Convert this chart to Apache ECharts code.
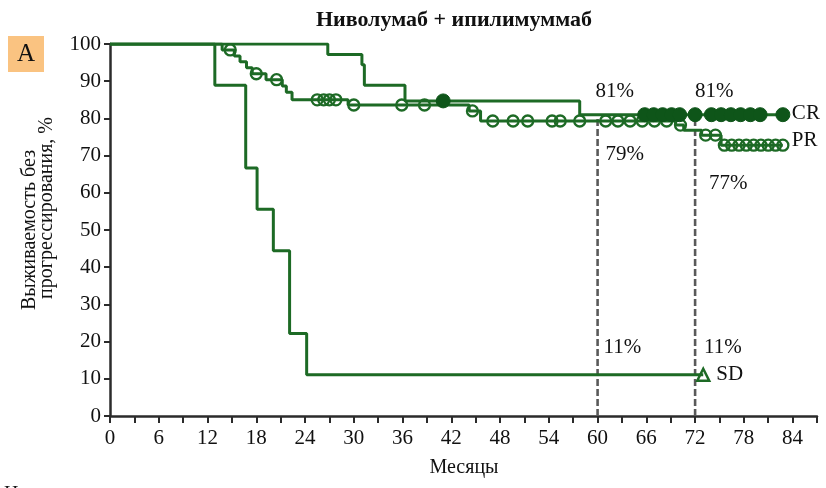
<!DOCTYPE html>
<html>
<head>
<meta charset="utf-8">
<script src="https://cdn.jsdelivr.net/npm/echarts@6/dist/echarts.min.js"></script>
<style>
  html, body { margin: 0; padding: 0; background: #fff; }
  #chart { width: 826px; height: 488px; }
</style>
</head>
<body>
<div id="chart"></div>
<script>
// Kaplan–Meier progression-free survival by best response (CR / PR / SD)

// Event times (months) and survival (%) after each event
const crEventMonths = [26.8, 31.0, 31.3, 36.3, 57.8];
const crSurvival    = [97.2, 94.4, 88.9, 84.7, 81.0];
const crCensorMonths = [41.0, 65.8, 66.9, 68.0, 69.1, 70.1, 72.0, 74.0, 75.2, 76.4, 77.6, 78.8, 80.0, 82.8];

const prEventMonths = [13.8, 15.3, 16.0, 16.8, 17.5, 19.2, 21.2, 21.7, 22.4, 29.3, 44.2, 45.6, 69.6, 70.6, 72.8, 75.2];
const prSurvival    = [98.4, 96.8, 95.2, 93.6, 92.0, 90.4, 88.7, 87.0, 85.0, 83.6, 82.0, 79.3, 78.2, 76.8, 75.5, 72.8];
const prCensorMonths = [14.8, 18.0, 20.5, 25.5, 26.3, 27.0, 27.8, 30.0, 35.9, 38.7, 44.6, 47.1, 49.6, 51.4, 54.4, 55.4, 57.8,
                        61.0, 62.5, 64.0, 65.5, 67.0, 68.5, 70.2, 73.3, 74.5, 75.6, 76.5, 77.4, 78.3, 79.2, 80.1, 81.0, 81.9, 82.8];

const sdEventMonths = [12.9, 16.7, 18.1, 20.1, 22.1, 24.2];
const sdSurvival    = [88.9, 66.7, 55.6, 44.4, 22.2, 11.1];
const sdCensorMonths = [73.0];

const landmarkMonths = [60, 72];
const xTickLabels = [0, 6, 12, 18, 24, 30, 36, 42, 48, 54, 60, 66, 72, 78, 84];
const yTickLabels = [0, 10, 20, 30, 40, 50, 60, 70, 80, 90, 100];

const groupNames = ['CR', 'PR', 'SD'];
const titleText = 'Ниволумаб + ипилимуммаб';
const yNameLines = ['Выживаемость без', 'прогрессирования, %'];
const xNameText = 'Месяцы';

// ---- helpers ----
function survivalAt(months, values, t) {
  let s = 100;
  for (let i = 0; i < months.length; i++) if (months[i] <= t) s = values[i];
  return s;
}
function stepData(months, values, censors) {
  const pts = [[0, 100]];
  months.forEach((m, i) => pts.push([m, values[i]]));
  const end = Math.max(...censors, months[months.length - 1]);
  pts.push([end, values[values.length - 1]]);
  return pts;
}
function censorData(months, values, censors) {
  return censors.map(t => [t, survivalAt(months, values, t)]);
}

const GREEN = '#1d6a25';
const DARK = '#0e5519';
const SERIF = '"Liberation Serif", "DejaVu Serif", serif';

const groups = {
  CR: [crEventMonths, crSurvival, crCensorMonths],
  PR: [prEventMonths, prSurvival, prCensorMonths],
  SD: [sdEventMonths, sdSurvival, sdCensorMonths]
};

const series = [];

// dashed landmark verticals up to the CR curve
landmarkMonths.forEach(m => {
  series.push({
    type: 'line', silent: true, symbol: 'none', z: 1,
    data: [[m, 0], [m, survivalAt(crEventMonths, crSurvival, m)]],
    lineStyle: { color: '#5a5a5a', width: 2.6, type: [7, 3] }
  });
});

// survival curves
groupNames.forEach(g => {
  const [m, v, c] = groups[g];
  series.push({
    name: g, type: 'line', step: 'end', symbol: 'none', z: 3,
    data: stepData(m, v, c),
    lineStyle: { color: GREEN, width: 3 }
  });
});

// censor marks
series.push({
  type: 'scatter', z: 4, symbol: 'circle', symbolSize: 11,
  data: censorData(prEventMonths, prSurvival, prCensorMonths),
  itemStyle: { color: 'rgba(255,255,255,0)', borderColor: GREEN, borderWidth: 2.3, opacity: 1 }
});
series.push({
  type: 'scatter', z: 5, symbol: 'circle', symbolSize: 14,
  data: censorData(crEventMonths, crSurvival, crCensorMonths),
  itemStyle: { color: DARK, borderColor: DARK, borderWidth: 1, opacity: 1 }
});
series.push({
  type: 'scatter', z: 5, symbol: 'triangle', symbolSize: 12,
  data: censorData(sdEventMonths, sdSurvival, sdCensorMonths),
  itemStyle: { color: 'rgba(255,255,255,0)', borderColor: GREEN, borderWidth: 2.5, opacity: 1 }
});

// landmark percentage labels, computed from the curves
const labelText = { fontFamily: SERIF, fontSize: 21, color: '#111', align: 'left', verticalAlign: 'middle' };
const landmarkLabelOffsets = {
  CR: [[-2, -23], [0, -23]],
  PR: [[8, 33], [14, 53]],
  SD: [[6, -27], [9, -27]]
};
groupNames.forEach(g => {
  const [m, v] = groups[g];
  series.push({
    type: 'scatter', symbolSize: 0, z: 6, silent: true,
    itemStyle: { opacity: 1 },
    data: landmarkMonths.map((t, i) => {
      const val = survivalAt(m, v, t);
      return {
        value: [t, val],
        label: Object.assign({ show: true, position: landmarkLabelOffsets[g][i],
          formatter: Math.round(val) + '%' }, labelText)
      };
    })
  });
});

// group names at the end of each curve
const endLabelOffsets = { CR: [9, -1], PR: [9, -5], SD: [13, 0] };
groupNames.forEach(g => {
  const [m, v, c] = groups[g];
  const pts = stepData(m, v, c);
  const last = pts[pts.length - 1];
  series.push({
    type: 'scatter', symbolSize: 0, z: 6, silent: true,
    itemStyle: { opacity: 1 },
    data: [{ value: last, label: Object.assign({ show: true, position: endLabelOffsets[g], formatter: g }, labelText) }]
  });
});

const chart = echarts.init(document.getElementById('chart'), null, { renderer: 'canvas' });
chart.setOption({
  animation: false,
  backgroundColor: '#ffffff',
  grid: { left: 110, right: 9, top: 44, bottom: 72, containLabel: false },
  xAxis: {
    type: 'value', min: 0, max: 87, interval: 3,
    axisLine: { show: true, lineStyle: { color: '#2b2b2b', width: 2.5 } },
    axisTick: { show: true, length: 7, lineStyle: { color: '#2b2b2b', width: 2 } },
    axisLabel: {
      margin: 12, fontFamily: SERIF, fontSize: 21, color: '#111',
      formatter: v => (xTickLabels.indexOf(v) >= 0 ? String(v) : '')
    },
    splitLine: { show: false }
  },
  yAxis: {
    type: 'value', min: 0, max: 100, interval: 10,
    axisLine: { show: true, lineStyle: { color: '#2b2b2b', width: 2.5 } },
    axisTick: { show: true, length: 6, lineStyle: { color: '#2b2b2b', width: 2 } },
    axisLabel: {
      margin: 9, fontFamily: SERIF, fontSize: 21, color: '#111',
      formatter: v => (yTickLabels.indexOf(v) >= 0 ? String(v) : '')
    },
    splitLine: { show: false }
  },
  series: series,
  graphic: [
    { type: 'text', x: 454, y: 20,
      style: { text: titleText, fontFamily: SERIF, fontSize: 22, fontWeight: 'bold', fill: '#111', align: 'center', verticalAlign: 'middle' } },
    { type: 'rect', shape: { x: 8, y: 36, width: 36, height: 36 }, style: { fill: '#fac381' } },
    { type: 'text', x: 26, y: 54, style: { text: 'A', fontFamily: SERIF, fontSize: 25, fill: '#111', align: 'center', verticalAlign: 'middle' } },
    { type: 'text', x: 30, y: 230, rotation: Math.PI / 2,
      style: { text: yNameLines[0], fontFamily: SERIF, fontSize: 20, fill: '#111', align: 'center', verticalAlign: 'middle' } },
    { type: 'text', x: 47, y: 208, rotation: Math.PI / 2,
      style: { text: yNameLines[1], fontFamily: SERIF, fontSize: 20, fill: '#111', align: 'center', verticalAlign: 'middle' } },
    { type: 'text', x: 464, y: 468,
      style: { text: xNameText, fontFamily: SERIF, fontSize: 20, fill: '#111', align: 'center', verticalAlign: 'middle' } },
    { type: 'text', x: 4, y: 485,
      style: { text: 'Н', fontFamily: SERIF, fontSize: 20, fill: '#111', align: 'left', verticalAlign: 'top' } }
  ]
});
</script>
</body>
</html>
